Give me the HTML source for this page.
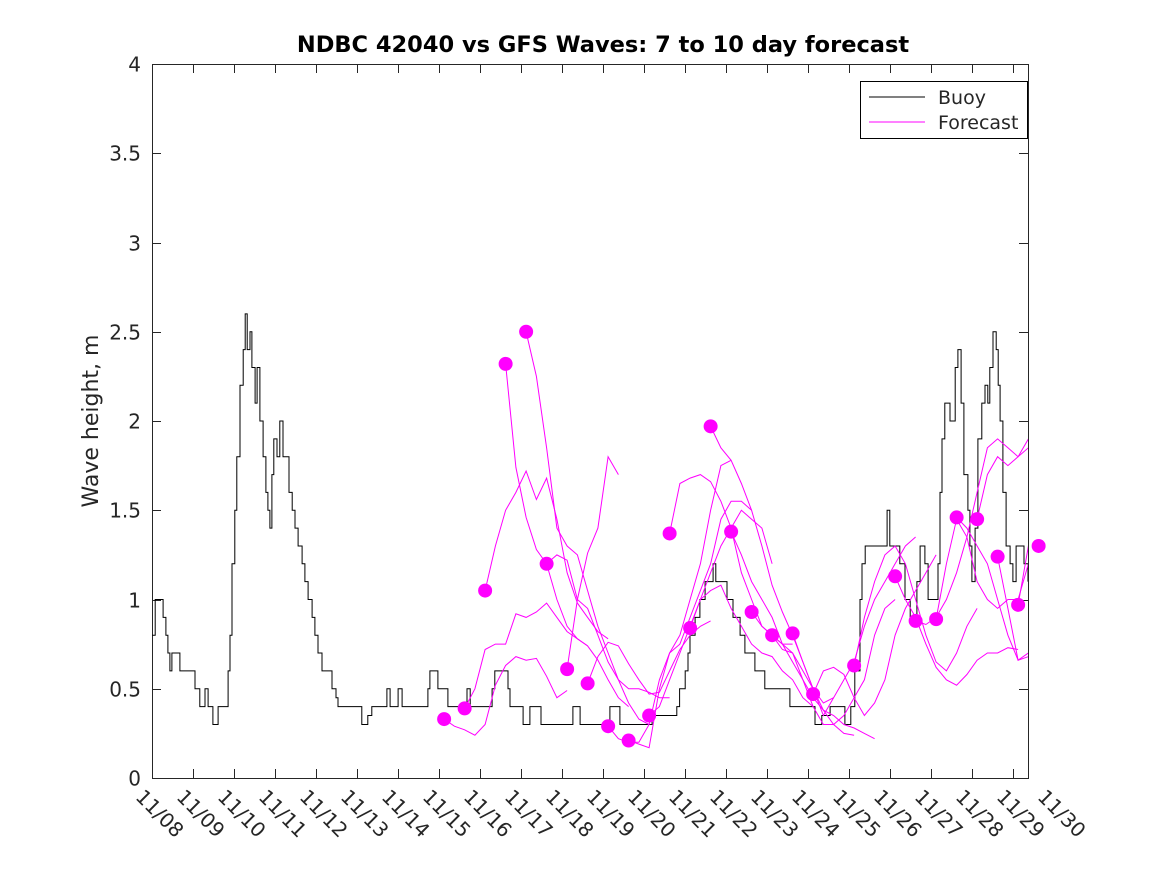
<!DOCTYPE html>
<html><head><meta charset="utf-8"><style>
body{margin:0;background:#fff;}
svg{display:block;font-family:"DejaVu Sans","Liberation Sans",sans-serif;}
</style></head><body>
<svg id="chart" width="1167" height="875" xmlns="http://www.w3.org/2000/svg">
<rect width="1167" height="875" fill="#fff"/>
<text x="603" y="52" text-anchor="middle" font-size="22.5" font-weight="bold">NDBC 42040 vs GFS Waves: 7 to 10 day forecast</text>
<text transform="translate(98,421) rotate(-90)" text-anchor="middle" font-size="22" fill="#262626">Wave height, m</text>
<defs><clipPath id="clip"><rect x="152" y="64" width="876" height="714"/></clipPath></defs>
<g id="axes"></g>
<g id="buoy" clip-path="url(#clip)"></g>
<g id="fc" clip-path="url(#clip)"></g>
<g id="dots"></g>
<g>
<rect x="860.5" y="81.5" width="167" height="57" fill="#fff" stroke="#000"/>
<line x1="869" y1="97" x2="925" y2="97" stroke="#000"/>
<text x="938" y="104" font-size="19" fill="#262626">Buoy</text>
<line x1="869" y1="122" x2="925" y2="122" stroke="#f0f"/>
<text x="938" y="129" font-size="19" fill="#262626">Forecast</text>
</g>
</svg>
<script>
const xTickLabels=["11/08","11/09","11/10","11/11","11/12","11/13","11/14","11/15","11/16","11/17","11/18","11/19","11/20","11/21","11/22","11/23","11/24","11/25","11/26","11/27","11/28","11/29","11/30"];
const yTicks=[0,0.5,1,1.5,2,2.5,3,3.5,4];
const buoyDaysRaw=[0,0.08,0.2,0.28,0.35,0.4,0.45,0.5,0.7,1.0,1.08,1.2,1.33,1.41,1.53,1.66,1.83,1.91,1.96,2.01,2.08,2.13,2.21,2.29,2.34,2.39,2.46,2.51,2.59,2.64,2.71,2.79,2.86,2.91,2.96,3.01,3.06,3.14,3.21,3.29,3.37,3.44,3.52,3.59,3.67,3.77,3.84,3.92,4.02,4.09,4.17,4.27,4.42,4.52,4.62,4.67,5.22,5.27,5.42,5.52,5.85,5.9,5.98,6.18,6.28,6.86,6.93,6.98,7.13,7.18,7.36,7.43,7.86,7.91,7.99,8.49,8.54,8.61,8.94,8.99,9.32,9.49,9.74,9.77,10.57,10.75,11.5,11.75,12.5,12.56,13.18,13.25,13.39,13.46,13.51,13.64,13.76,13.89,14.01,14.09,14.16,14.44,14.59,14.77,14.89,15.14,15.39,16.02,16.52,16.65,16.82,17.03,17.28,17.4,17.55,17.65,17.78,17.83,17.91,18.28,18.46,18.53,18.78,18.91,19.04,19.14,19.21,19.29,19.41,19.49,19.66,19.74,19.79,19.84,19.91,20.04,20.17,20.24,20.32,20.39,20.49,20.54,20.59,20.67,20.74,20.84,20.92,20.99,21.04,21.12,21.2,21.25,21.3,21.37,21.45,21.55,21.62,21.7,21.8,21.9,22.0];
const buoyValues=[0.8,1.0,1.0,0.9,0.8,0.7,0.6,0.7,0.6,0.6,0.5,0.4,0.5,0.4,0.3,0.4,0.4,0.6,0.8,1.2,1.5,1.8,2.2,2.4,2.6,2.4,2.5,2.3,2.1,2.3,2.0,1.8,1.6,1.5,1.4,1.7,1.9,1.8,2.0,1.8,1.8,1.6,1.5,1.4,1.3,1.2,1.1,1.0,0.9,0.8,0.7,0.6,0.6,0.5,0.45,0.4,0.4,0.3,0.35,0.4,0.4,0.5,0.4,0.5,0.4,0.4,0.5,0.6,0.6,0.5,0.5,0.4,0.4,0.5,0.4,0.4,0.5,0.6,0.5,0.4,0.3,0.4,0.4,0.3,0.4,0.3,0.4,0.3,0.3,0.35,0.4,0.5,0.6,0.7,0.8,0.9,1.0,1.1,1.1,1.2,1.1,1.0,0.9,0.8,0.7,0.6,0.5,0.4,0.4,0.3,0.35,0.4,0.4,0.3,0.4,0.6,1.0,1.2,1.3,1.3,1.5,1.3,1.2,1.0,0.9,0.9,1.1,1.3,1.2,1.0,1.0,1.2,1.6,1.9,2.1,2.0,2.3,2.4,2.1,1.7,1.5,1.3,1.1,1.4,1.9,2.1,2.2,2.1,2.3,2.5,2.4,2.2,2.0,1.6,1.3,1.2,1.1,1.3,1.3,1.2,1.1];
const buoyDays=buoyDaysRaw.map(d=>d*0.9712);
const forecastStarts=[7.125,7.625,8.125,8.625,9.125,9.625,10.125,10.625,11.125,11.625,12.125,12.625,13.125,13.625,14.125,14.625,15.125,15.625,16.125,17.125,18.125,18.625,19.125,19.625,20.125,20.625,21.125,21.625];
const fcA=[0.33,0.29,0.27,0.24,0.30,0.52,0.63,0.68,0.66,0.67,0.57,0.45,0.49];
const fcB=[0.39,0.50,0.72,0.75,0.75,0.92,0.90,0.93,0.98,0.90,0.82,0.78,0.74];
const fcC=[1.05,1.30,1.50,1.60,1.72,1.56,1.68,1.45,1.15,0.98,0.90,0.82,0.78];
const fcD=[2.32,1.74,1.46,1.28,1.20,1.00,0.85,0.78,0.74,0.66,0.55,0.45,0.40];
const fcE=[2.5,2.25,1.85,1.40,1.30,1.25,1.05,0.85,0.70,0.55,0.42,0.33,0.30];
const fcF=[1.2,1.25,1.22,1.0,0.95,0.8,0.65,0.55,0.5,0.5,0.48,0.45,0.45];
const fcG=[0.61,1.0,1.26,1.40,1.80,1.70];
const fcH=[0.53,0.68,0.76,0.74,0.64,0.55,0.47,0.48,0.60,0.72,0.80,0.85,0.88];
const fcI=[0.29,0.22,0.20,0.20,0.30,0.55,0.70,0.80,1.0,1.2,1.5,1.75,1.78];
const fcJ=[0.21,0.19,0.17,0.50,0.70,0.75,0.90,1.05,1.20,1.45,1.55,1.55,1.50];
const fcK=[0.35,0.4,0.55,0.7,0.85,1.0,1.15,1.30,1.40,1.50,1.45,1.40,1.20];
const fcL=[1.37,1.65,1.68,1.70,1.66,1.55,1.40,1.15,1.0,0.85,0.80,0.75,0.75];
const fcM=[0.84,1.0,1.05,1.08,0.95,0.85,0.75,0.70,0.68,0.60,0.55,0.45,0.40];
const fcN=[1.97,1.85,1.78,1.65,1.50,1.30,1.08,0.93,0.80,0.65,0.50,0.42,0.45];
const fcO=[1.38,1.25,1.10,1.00,0.90,0.75,0.70,0.60,0.50,0.38,0.30,0.25,0.24];
const fcP=[0.93,0.85,0.8,0.75,0.65,0.55,0.45,0.38,0.35,0.3,0.28,0.25,0.22];
const fcQ=[0.80,0.72,0.7,0.55,0.4,0.3,0.3,0.35,0.45,0.55,0.8,0.95,1.0];
const fcR=[0.81,0.65,0.5,0.35,0.45,0.55,0.65,0.85,1.0,1.1,1.2,1.3,1.35];
const fcS=[0.47,0.6,0.62,0.58,0.45,0.35,0.42,0.55,0.8,0.95,1.05,1.15,1.25];
const fcT=[0.63,0.9,1.1,1.25,1.3,1.2,1.0,0.8,0.65,0.6,0.7,0.85,0.95];
const fcU=[1.13,1.0,0.9,0.75,0.62,0.55,0.52,0.58,0.66,0.70,0.70,0.73,0.72];
const fcV=[0.88,0.86,0.90,1.0,1.15,1.35,1.6,1.85,1.90,1.85,1.80,1.85,1.95];
const fcW=[0.89,1.2,1.45,1.35,1.1,1.0,0.95,1.0,1.0,1.2,1.4];
const fcX=[1.46,1.4,1.3,1.2,1.0,0.8,0.66,0.68,0.9];
const fcY=[1.45,1.7,1.8,1.75,1.80,1.90,2.0];
const fcZ=[1.24,0.95,0.66,0.7,0.9];
const fcAA=[0.97,1.3,1.6];
const fcAB=[1.30];
const forecastValues=[fcA,fcB,fcC,fcD,fcE,fcF,fcG,fcH,fcI,fcJ,fcK,fcL,fcM,fcN,fcO,fcP,fcQ,fcR,fcS,fcT,fcU,fcV,fcW,fcX,fcY,fcZ,fcAA,fcAB];
const forecastStep=0.25;

const NS="http://www.w3.org/2000/svg";
const X0=152,X1=1028,Y0=778,Y1=64,PXDAY=41;
function xs(d){return X0+PXDAY*d;}
function ys(v){return Y0-(Y0-Y1)*v/4;}
function mk(tag,parent,attrs){const e=document.createElementNS(NS,tag);for(const k in attrs)e.setAttribute(k,attrs[k]);parent.appendChild(e);return e;}

const axes=document.getElementById('axes');
const frame=mk('rect',axes,{x:X0+0.5,y:Y1+0.5,width:X1-X0,height:Y0-Y1,fill:'none',stroke:'#262626'});


yTicks.forEach(v=>{
  const y=Math.round(ys(v))+0.5;
  const t=mk('path',axes,{d:`M${X0} ${y}h9M${X1} ${y}h-9`,stroke:'#262626'});
  
  
  const l=mk('text',axes,{x:141,y:y+7,'text-anchor':'end','font-size':20,fill:'#262626'});
  l.textContent=String(v);
  
  
});
xTickLabels.forEach((lab,i)=>{
  const x=Math.round(xs(i))+0.5;
  if(x<X1){
    const t=mk('path',axes,{d:`M${x} ${Y0}v-9M${x} ${Y1}v9`,stroke:'#262626'});
    
    
  }
  const l=mk('text',axes,{transform:`translate(${x-18},${Y0+20}) rotate(45)`,'font-size':20,fill:'#262626'});
  l.textContent=lab;
  
  
});

let d='';
for(let i=0;i<buoyDays.length;i++){
  const x=xs(buoyDays[i]).toFixed(1),y=ys(buoyValues[i]).toFixed(1);
  d+= i===0?`M${x} ${y}`:`H${x}V${y}`;
}
const bp=mk('path',document.getElementById('buoy'),{d:d,fill:'none',stroke:'#000','stroke-width':1});



const fc=document.getElementById('fc'),dots=document.getElementById('dots');
forecastValues.forEach((vals,k)=>{
  const s=forecastStarts[k];
  if(vals.length>1){
    const pts=vals.map((v,j)=>xs(s+j*forecastStep).toFixed(1)+','+ys(v).toFixed(1)).join(' ');
    const pl=mk('polyline',fc,{points:pts,fill:'none',stroke:'#f0f','stroke-width':1});
    
    
  }
  const c=mk('circle',dots,{cx:xs(s),cy:ys(vals[0]),r:7,fill:'#f0f'});
  
  
});
</script>
</body></html>
